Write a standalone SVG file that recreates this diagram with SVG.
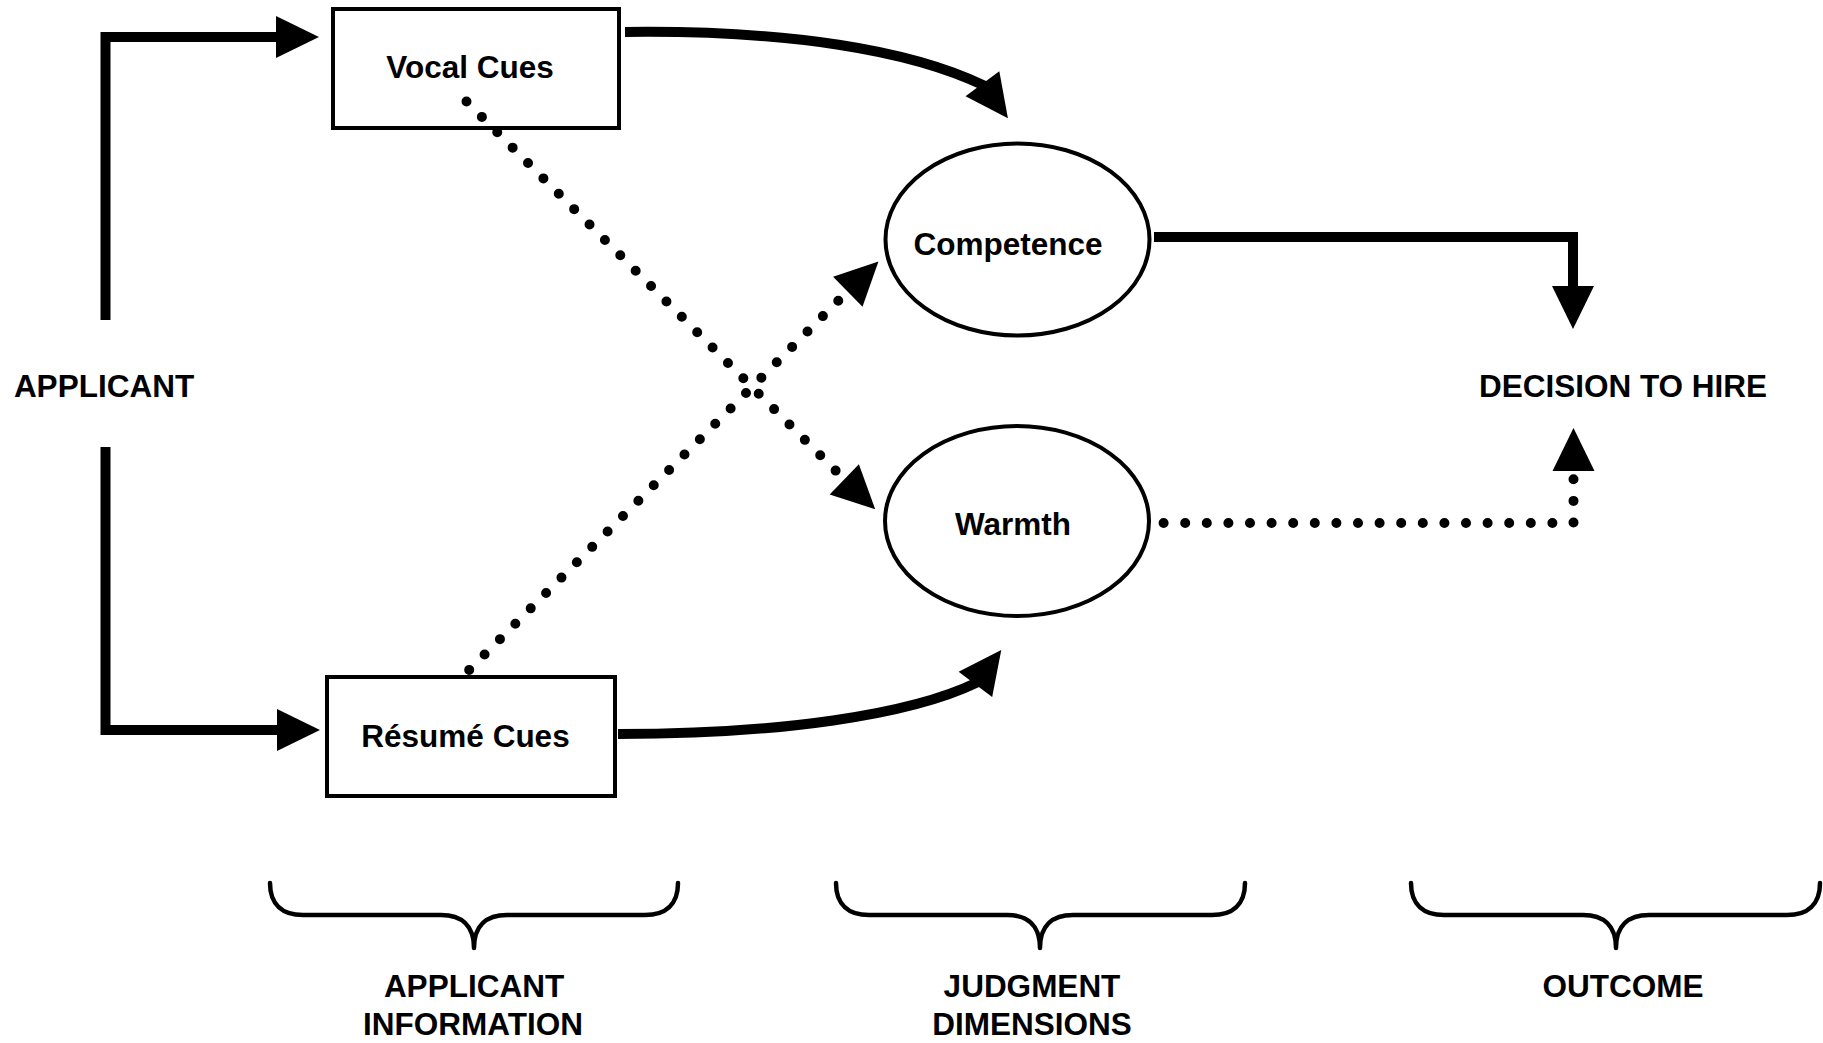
<svg xmlns="http://www.w3.org/2000/svg" xmlns:xlink="http://www.w3.org/1999/xlink" width="1823" height="1043" viewBox="0 0 1823 1043">
<style>
  .bg{fill:#fff}
  .box{fill:#fff;stroke:#000;stroke-width:4}
  .oval{fill:#fff;stroke:#000;stroke-width:4}
  .lbl{font-family:"Liberation Sans",Arial,Helvetica,sans-serif;font-weight:bold;font-size:31.5px;fill:#000;text-anchor:middle}
  .solid{fill:none;stroke:#000;stroke-width:10;stroke-linejoin:miter;stroke-linecap:butt}
  .dots{fill:none;stroke:#000;stroke-width:10;stroke-linecap:round;stroke-dasharray:0 21.75}
  .dotsh{fill:none;stroke:#000;stroke-width:10;stroke-linecap:round;stroke-dasharray:0 21.6}
  .brace{fill:none;stroke:#000;stroke-width:4.5;stroke-linecap:round;stroke-linejoin:round}
  .head{fill:#000}
</style>
<defs>
  <path id="ah" class="head" d="M-1,-21 L42,0 L-1,21 Z"/>
</defs>
<rect class="bg" x="0" y="0" width="1823" height="1043"/>

<g id="node-vocal">
  <rect class="box" x="333" y="9" width="286" height="119"/>
  <text class="lbl" x="470" y="78">Vocal Cues</text>
</g>
<g id="node-resume">
  <rect class="box" x="327" y="677" width="288" height="119"/>
  <text class="lbl" x="465.5" y="747">Résumé Cues</text>
</g>
<g id="node-competence">
  <ellipse class="oval" cx="1017.5" cy="239.5" rx="132" ry="96"/>
  <text class="lbl" x="1008" y="255">Competence</text>
</g>
<g id="node-warmth">
  <ellipse class="oval" cx="1017" cy="521" rx="132" ry="95"/>
  <text class="lbl" x="1013" y="535">Warmth</text>
</g>
<g id="node-applicant">
  <text class="lbl" x="104" y="397">APPLICANT</text>
</g>
<g id="node-decision">
  <text class="lbl" x="1623" y="397">DECISION TO HIRE</text>
</g>

<g id="brace-applicant-info">
  <path class="brace" d="M270,883 C270,905 283,915 303,915 H441 C461,915 474,925 474,948 C474,925 487,915 507,915 H645 C665,915 678,905 678,883"/>
  <text class="lbl" x="474" y="997">APPLICANT</text>
  <text class="lbl" x="473" y="1035">INFORMATION</text>
</g>
<g id="brace-judgment">
  <path class="brace" d="M836,883 C836,905 849,915 869,915 H1007 C1027,915 1040,925 1040,948 C1040,925 1053,915 1073,915 H1212 C1232,915 1245,905 1245,883"/>
  <text class="lbl" x="1032" y="997">JUDGMENT</text>
  <text class="lbl" x="1032" y="1035">DIMENSIONS</text>
</g>
<g id="brace-outcome">
  <path class="brace" d="M1411,883 C1411,905 1424,915 1444,915 H1583 C1603,915 1616,925 1616,948 C1616,925 1629,915 1649,915 H1787 C1807,915 1820,905 1820,883"/>
  <text class="lbl" x="1623" y="997">OUTCOME</text>
</g>

<g id="connectors">
  <!-- Applicant to Vocal Cues -->
  <path class="solid" d="M105.5,320 V37 H279"/>
  <use href="#ah" transform="translate(277,37)"/>
  <!-- Applicant to Resume Cues -->
  <path class="solid" d="M105.5,447 V730 H280"/>
  <use href="#ah" transform="translate(278,730)"/>
  <!-- Vocal Cues to Competence -->
  <path class="solid" d="M625,32 C790,30 910,50 984,85.5"/>
  <use href="#ah" transform="translate(983,84.5) rotate(53.6)"/>
  <!-- Resume Cues to Warmth -->
  <path class="solid" d="M618,734 C780,734 910,715 977,682.5"/>
  <use href="#ah" transform="translate(976,683.5) rotate(-53)"/>
  <!-- Vocal Cues to Warmth (dotted) -->
  <path class="dots" d="M466.5,101.5 L852,487"/>
  <use href="#ah" transform="translate(845,480) rotate(44)"/>
  <!-- Resume Cues to Competence (dotted) -->
  <path class="dots" d="M469.2,669.9 L855,284"/>
  <use href="#ah" transform="translate(848.5,291) rotate(-44.5)"/>
  <!-- Competence to Decision -->
  <path class="solid" d="M1154,237 H1573 V289"/>
  <use href="#ah" transform="translate(1573,287) rotate(90)"/>
  <!-- Warmth to Decision (dotted) -->
  <path class="dotsh" d="M1163.6,523 H1573.5 V456"/>
  <use href="#ah" transform="translate(1573.5,470) rotate(-90)"/>
</g>
</svg>
